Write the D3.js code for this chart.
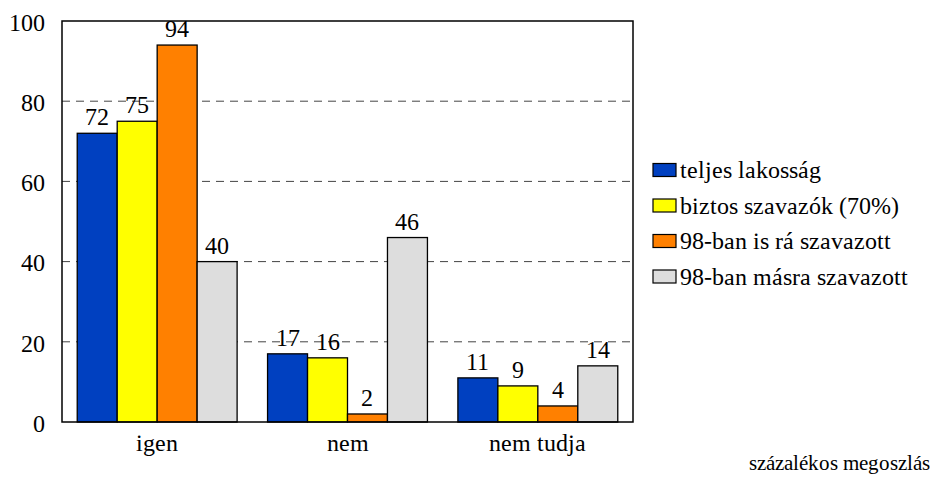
<!DOCTYPE html>
<html>
<head>
<meta charset="utf-8">
<script src="https://cdn.jsdelivr.net/npm/d3@7"></script>
<style>
  @font-face { font-family: "ChartSerif"; src: local("Liberation Serif"), local("LiberationSerif"), local("Liberation Serif Regular"), local("LiberationSerif-Regular"); }
</style>
</head>
<body style="margin:0">
<div id="vis"></div>
<script>
const categories = ["igen", "nem", "nem tudja"];
const seriesNames = ["teljes lakosság", "biztos szavazók (70%)", "98-ban is rá szavazott", "98-ban másra szavazott"];
const seriesColors = ["#0040c0", "#ffff00", "#ff8000", "#dddddd"];
const teljes = [72, 17, 11];
const biztos = [75, 16, 9];
const ra98 = [94, 2, 4];
const masra98 = [40, 46, 14];
const yTicks = [0, 20, 40, 60, 80, 100];
const note = "százalékos megoszlás";

const seriesValues = [teljes, biztos, ra98, masra98];
const width = 934, height = 477;
const margin = { top: 21, right: 301, bottom: 55, left: 62 };
const font = "ChartSerif, 'Liberation Serif', serif";
const fontSize = 23.5;

function serif(sel, size) {
  sel.attr("font-family", font)
    .attr("font-size", size);
  return sel;
}

const svg = d3.select("#vis").append("svg")
  .attr("width", width)
  .attr("height", height);

const x = d3.scaleBand()
  .domain(categories)
  .range([margin.left, width - margin.right])
  .paddingInner(0.16)
  .paddingOuter(0.08);

const xSub = d3.scaleBand()
  .domain(seriesNames)
  .range([0, x.bandwidth()]);

const y = d3.scaleLinear()
  .domain([0, 100])
  .range([height - margin.bottom, margin.top]);

// dashed grid
svg.append("g")
  .selectAll("line")
  .data(yTicks.filter(d => d > 0 && d < 100))
  .join("line")
  .attr("x1", margin.left)
  .attr("x2", width - margin.right)
  .attr("y1", d => y(d))
  .attr("y2", d => y(d))
  .attr("stroke", "#444")
  .attr("stroke-width", 1)
  .attr("stroke-dasharray", "8,6");

// bars
const rows = [];
seriesNames.forEach((s, i) => {
  categories.forEach((c, j) => rows.push({ s: s, c: c, v: seriesValues[i][j], k: i }));
});

svg.append("g")
  .selectAll("rect")
  .data(rows)
  .join("rect")
  .attr("x", d => x(d.c) + xSub(d.s))
  .attr("y", d => y(d.v))
  .attr("width", xSub.bandwidth())
  .attr("height", d => y(0) - y(d.v))
  .attr("fill", d => seriesColors[d.k])
  .attr("stroke", "#000")
  .attr("stroke-width", 1.3);

svg.selectAll("text.val")
  .data(rows)
  .join("text")
  .attr("class", "val")
  .attr("x", d => x(d.c) + xSub(d.s) + xSub.bandwidth() / 2)
  .attr("y", d => y(d.v) - 8)
  .attr("text-anchor", "middle")
  .attr("fill", "#000")
  .call(serif, fontSize)
  .text(d => d.v);

// frame
svg.append("rect")
  .attr("x", margin.left)
  .attr("y", margin.top)
  .attr("width", width - margin.right - margin.left)
  .attr("height", height - margin.bottom - margin.top)
  .attr("fill", "none")
  .attr("stroke", "#000")
  .attr("stroke-width", 1.5);

// y tick labels
svg.selectAll("text.ytick")
  .data(yTicks)
  .join("text")
  .attr("class", "ytick")
  .attr("x", margin.left - 17)
  .attr("y", d => y(d))
  .attr("dy", "0.42em")
  .attr("text-anchor", "end")
  .attr("fill", "#000")
  .call(serif, fontSize)
  .text(d => d);

// category labels
svg.selectAll("text.xtick")
  .data(categories)
  .join("text")
  .attr("class", "xtick")
  .attr("x", d => x(d) + x.bandwidth() / 2)
  .attr("y", y(0) + 29)
  .attr("text-anchor", "middle")
  .attr("fill", "#000")
  .call(serif, fontSize)
  .text(d => d);

// legend
const items = svg.append("g")
  .attr("transform", "translate(653,170)")
  .selectAll("g")
  .data(seriesNames)
  .join("g")
  .attr("transform", (d, i) => `translate(0,${i * 35.5})`);

items.append("rect")
  .attr("x", 0)
  .attr("y", -6.5)
  .attr("width", 23)
  .attr("height", 13)
  .attr("fill", (d, i) => seriesColors[i])
  .attr("stroke", "#000")
  .attr("stroke-width", 1.2);

items.append("text")
  .attr("x", 27)
  .attr("y", 8)
  .attr("fill", "#000")
  .call(serif, fontSize)
  .text(d => d);

svg.append("text")
  .attr("x", 930)
  .attr("y", 470)
  .attr("text-anchor", "end")
  .attr("fill", "#000")
  .call(serif, 21)
  .text(note);
</script>
</body>
</html>
